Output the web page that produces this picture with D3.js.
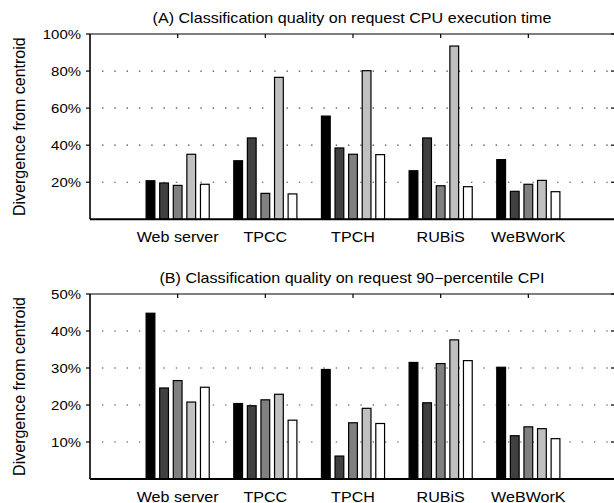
<!DOCTYPE html>
<html>
<head>
<meta charset="utf-8">
<script src="https://cdn.jsdelivr.net/npm/d3@7"></script>
<style>
  body { margin: 0; background: #fff; }
  svg { display: block; font-family: "Liberation Sans", Arial, Helvetica, sans-serif; }
</style>
</head>
<body>
<svg id="chart" width="614" height="503"></svg>
<script>
var categories = ["Web server", "TPCC", "TPCH", "RUBiS", "WeBWorK"];

// one row per method, bars go dark -> light inside each group
var cpuTime = [
  [20.8, 31.6, 55.7, 26.2, 32.2],
  [19.6, 43.9, 38.5, 43.9, 15.1],
  [18.3, 14.0, 35.1, 18.1, 18.9],
  [35.1, 76.6, 80.2, 93.5, 21.0],
  [18.9, 13.7, 34.9, 17.6, 14.9]
];
var cpi90 = [
  [44.8, 20.4, 29.6, 31.5, 30.2],
  [24.6, 19.8, 6.2, 20.6, 11.7],
  [26.6, 21.4, 15.2, 31.2, 14.1],
  [20.8, 22.9, 19.1, 37.6, 13.6],
  [24.8, 15.9, 15.0, 32.0, 10.9]
];
var cpuTicks = [20, 40, 60, 80, 100];
var cpiTicks = [10, 20, 30, 40, 50];
var shades = ["#000000", "#404040", "#808080", "#c0c0c0", "#ffffff"];

var svg = d3.select("#chart");

var x = d3.scaleLinear().domain([0, 6]).range([90, 616]);
var barW = x(0.1) - x(0);
var step = 0.155;
var stretch = 1.15; // the source picture is a little wider than tall

// text placed at (px, py) and widened a bit, like the source
function label(g, px, py, size, anchor, str) {
  return g.append("text")
    .attr("transform", "translate(" + px + "," + py + ") scale(" + stretch + ",1)")
    .attr("text-anchor", anchor)
    .attr("font-size", size)
    .text(str);
}

function drawPanel(title, data, ticks, top, bottom) {
  var y = d3.scaleLinear().domain([0, ticks[ticks.length - 1]]).range([bottom, top]);
  var g = svg.append("g");

  // dotted grid
  g.selectAll("line.grid")
    .data(ticks.slice(0, -1))
    .enter().append("line")
    .attr("class", "grid")
    .attr("x1", x(0) + 12).attr("x2", x(6))
    .attr("y1", function(d) { return y(d); })
    .attr("y2", function(d) { return y(d); })
    .attr("stroke", "#444")
    .attr("stroke-width", 1.2)
    .attr("stroke-dasharray", "1.4,10.9");

  // bars
  data.forEach(function(series, j) {
    g.selectAll("rect.s" + j)
      .data(series)
      .enter().append("rect")
      .attr("class", "s" + j)
      .attr("x", function(d, i) { return x(i + 1 + (j - 2) * step) - barW / 2; })
      .attr("y", function(d) { return y(d); })
      .attr("width", barW)
      .attr("height", function(d) { return bottom - y(d); })
      .attr("fill", shades[j])
      .attr("stroke", "#000")
      .attr("stroke-width", 1.2);
  });

  // frame
  g.append("line").attr("x1", x(0)).attr("x2", x(6)).attr("y1", top).attr("y2", top)
    .attr("stroke", "#000").attr("stroke-width", 1.2);
  g.append("line").attr("x1", x(0)).attr("x2", x(0)).attr("y1", top).attr("y2", bottom)
    .attr("stroke", "#000").attr("stroke-width", 1.6);
  g.append("line").attr("x1", x(0)).attr("x2", x(6)).attr("y1", bottom).attr("y2", bottom)
    .attr("stroke", "#000").attr("stroke-width", 2);

  // category ticks hanging from the top border
  g.selectAll("line.ct")
    .data(categories)
    .enter().append("line")
    .attr("x1", function(d, i) { return x(i + 1); })
    .attr("x2", function(d, i) { return x(i + 1); })
    .attr("y1", top).attr("y2", top + 4)
    .attr("stroke", "#000").attr("stroke-width", 1.2);

  // y ticks
  g.selectAll("line.yt")
    .data(ticks)
    .enter().append("line")
    .attr("x1", x(0) - 4).attr("x2", x(0))
    .attr("y1", function(d) { return y(d); })
    .attr("y2", function(d) { return y(d); })
    .attr("stroke", "#000").attr("stroke-width", 1.2);
  g.selectAll("line.yr")
    .data(ticks)
    .enter().append("line")
    .attr("x1", x(6) - 5).attr("x2", x(6))
    .attr("y1", function(d) { return y(d); })
    .attr("y2", function(d) { return y(d); })
    .attr("stroke", "#000").attr("stroke-width", 1.2);

  ticks.forEach(function(d) {
    label(g, 81, y(d) + 4.6, 13, "end", d + "%");
  });

  categories.forEach(function(d, i) {
    label(g, x(i + 1), bottom + 22.5, 14, "middle", d);
  });

  label(g, 352, top - 11, 14, "middle", title);

  g.append("text")
    .attr("transform", "translate(25," + ((top + bottom) / 2) + ") rotate(-90)")
    .attr("text-anchor", "middle")
    .attr("font-size", 16)
    .text("Divergence from centroid");
}

drawPanel("(A) Classification quality on request CPU execution time", cpuTime, cpuTicks, 34, 219.3);
drawPanel("(B) Classification quality on request 90\u2212percentile CPI", cpi90, cpiTicks, 294, 479);
</script>
</body>
</html>
